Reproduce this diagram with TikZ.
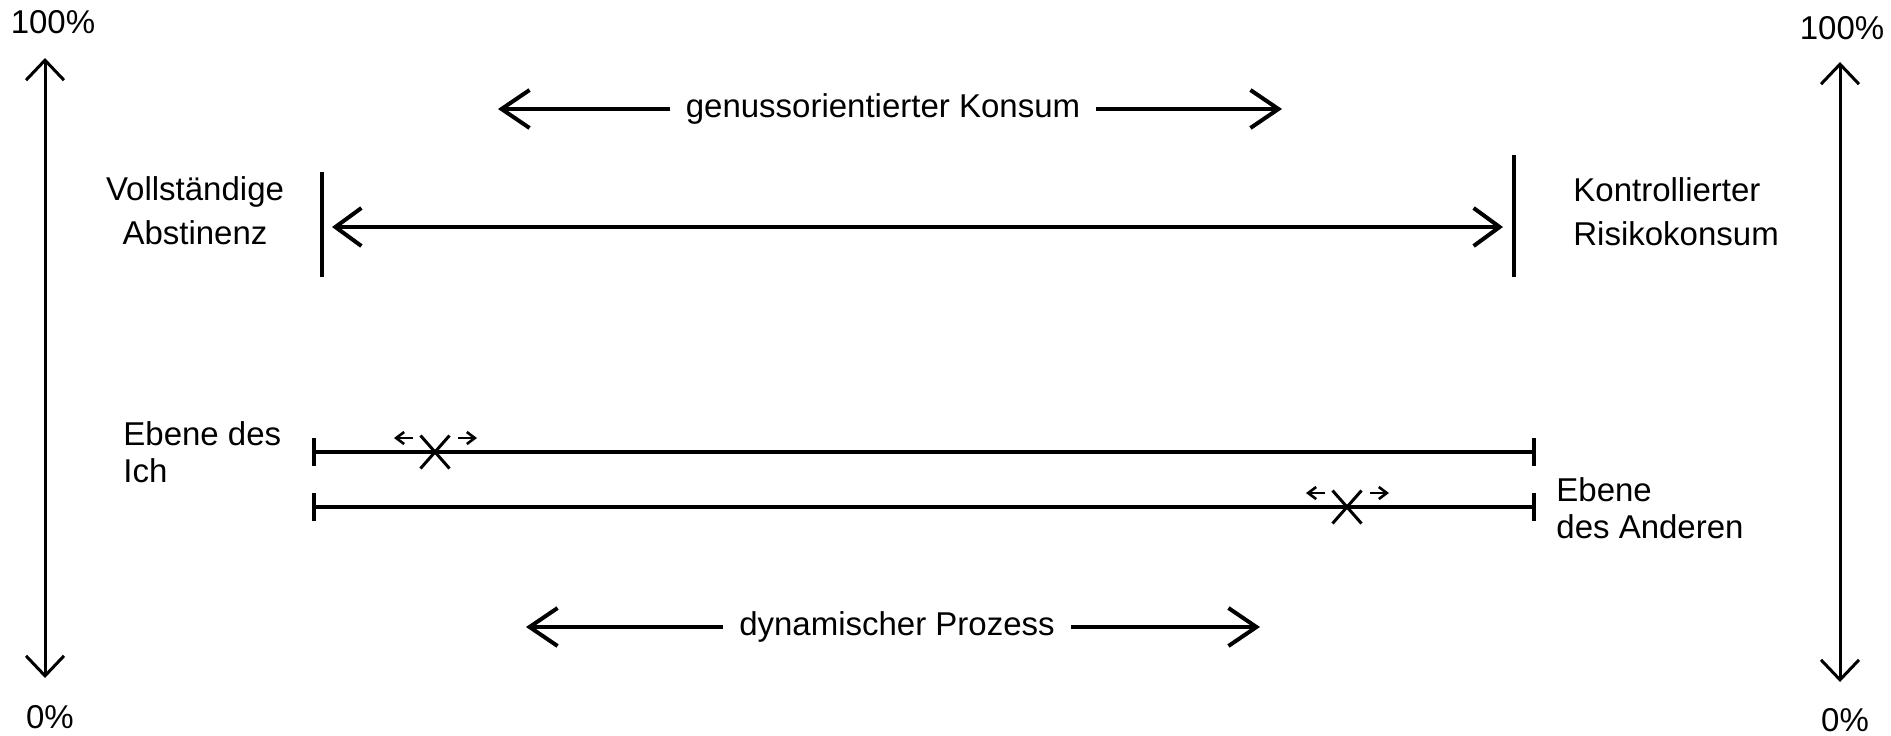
\documentclass[tikz,border=0pt]{standalone}
\usepackage{fontspec}
\setmainfont{Liberation Sans}
\usetikzlibrary{arrows.meta,shapes.misc}

\begin{document}
\begin{tikzpicture}[x=0.5pt,y=-0.5pt,
  lbl/.style={font=\fontsize{16.5}{22}\selectfont, inner sep=0pt},
  lbltight/.style={font=\fontsize{16.5}{18.5}\selectfont, inner sep=0pt},
  pctaxis/.style={line width=1.5pt,
    {Straight Barb[length=10pt,width=19pt]}-{Straight Barb[length=10pt,width=19pt]}},
  spanarrow/.style={line width=2pt, -{Straight Barb[length=14pt,width=19pt]}},
  spanboth/.style={line width=2pt,
    {Straight Barb[length=13pt,width=19pt]}-{Straight Barb[length=13pt,width=19pt]}},
  boundbar/.style={line width=2pt},
  levelline/.style={line width=2pt, {Bar[width=14pt]}-{Bar[width=14pt]}},
  xmark/.style={cross out, draw, line width=1.5pt, minimum width=13pt,
    minimum height=15pt, inner sep=0pt},
  nudge/.style={line width=1.3pt, -{Straight Barb[length=4pt,width=6pt]}}
]
\useasboundingbox (0,0) rectangle (1891,735);

% percentage axes on both sides
\node[lbl] (p100L) at (53,22) {100\%};
\node[lbl] (p0L) at (50,717) {0\%};
\node[lbl] (p100R) at (1842,28) {100\%};
\node[lbl] (p0R) at (1845,720) {0\%};
\coordinate (axLtop) at (45,58);
\coordinate (axLbot) at (45,678);
\coordinate (axRtop) at (1840,62);
\coordinate (axRbot) at (1840,682);
\draw[pctaxis] (axLtop) -- (axLbot);
\draw[pctaxis] (axRtop) -- (axRbot);

% genussorientierter Konsum
\node[lbl, inner xsep=7.5pt] (genuss) at (883,109) {genussorientierter Konsum};
\coordinate (gL) at (498,109);
\coordinate (gR) at (1282,109);
\draw[spanarrow] (genuss.west) -- (gL);
\draw[spanarrow] (genuss.east) -- (gR);

% range between abstinence and controlled risk consumption
\node[lbl, align=center] (abst) at (195,211) {Vollständige\\Abstinenz};
\node[lbl, align=left, anchor=west] (risk) at (1573,212) {Kontrollierter\\Risikokonsum};
\coordinate (barLt) at (322,172);
\coordinate (barLb) at (322,277);
\coordinate (barRt) at (1514,155);
\coordinate (barRb) at (1514,277);
\draw[boundbar] (barLt) -- (barLb);
\draw[boundbar] (barRt) -- (barRb);
\coordinate (vaL) at (332,227);
\coordinate (vaR) at (1503,227);
\draw[spanboth] (vaL) -- (vaR);

% the two levels
\node[lbltight, align=left, anchor=west] (ich) at (123,452) {Ebene des\\Ich};
\node[lbltight, align=left, anchor=west] (anderen) at (1556,508) {Ebene\\des Anderen};
\coordinate (l1a) at (312,452);
\coordinate (l1b) at (1536,452);
\coordinate (l2a) at (312,507);
\coordinate (l2b) at (1536,507);
\draw[levelline] (l1a) -- (l1b);
\draw[levelline] (l2a) -- (l2b);

% positions on the levels
\node[xmark] (x1) at (435,452) {};
\node[xmark] (x2) at (1347,507) {};
\draw[nudge] ([shift={(-22,-14)}]x1.center) -- ++(-19,0);
\draw[nudge] ([shift={(23,-14)}]x1.center) -- ++(19,0);
\draw[nudge] ([shift={(-22,-14)}]x2.center) -- ++(-19,0);
\draw[nudge] ([shift={(23,-14)}]x2.center) -- ++(19,0);

% dynamischer Prozess
\node[lbl, inner xsep=8pt] (dyn) at (897,627) {dynamischer Prozess};
\coordinate (dL) at (526,627);
\coordinate (dR) at (1260,627);
\draw[spanarrow] (dyn.west) -- (dL);
\draw[spanarrow] (dyn.east) -- (dR);
\end{tikzpicture}
\end{document}
